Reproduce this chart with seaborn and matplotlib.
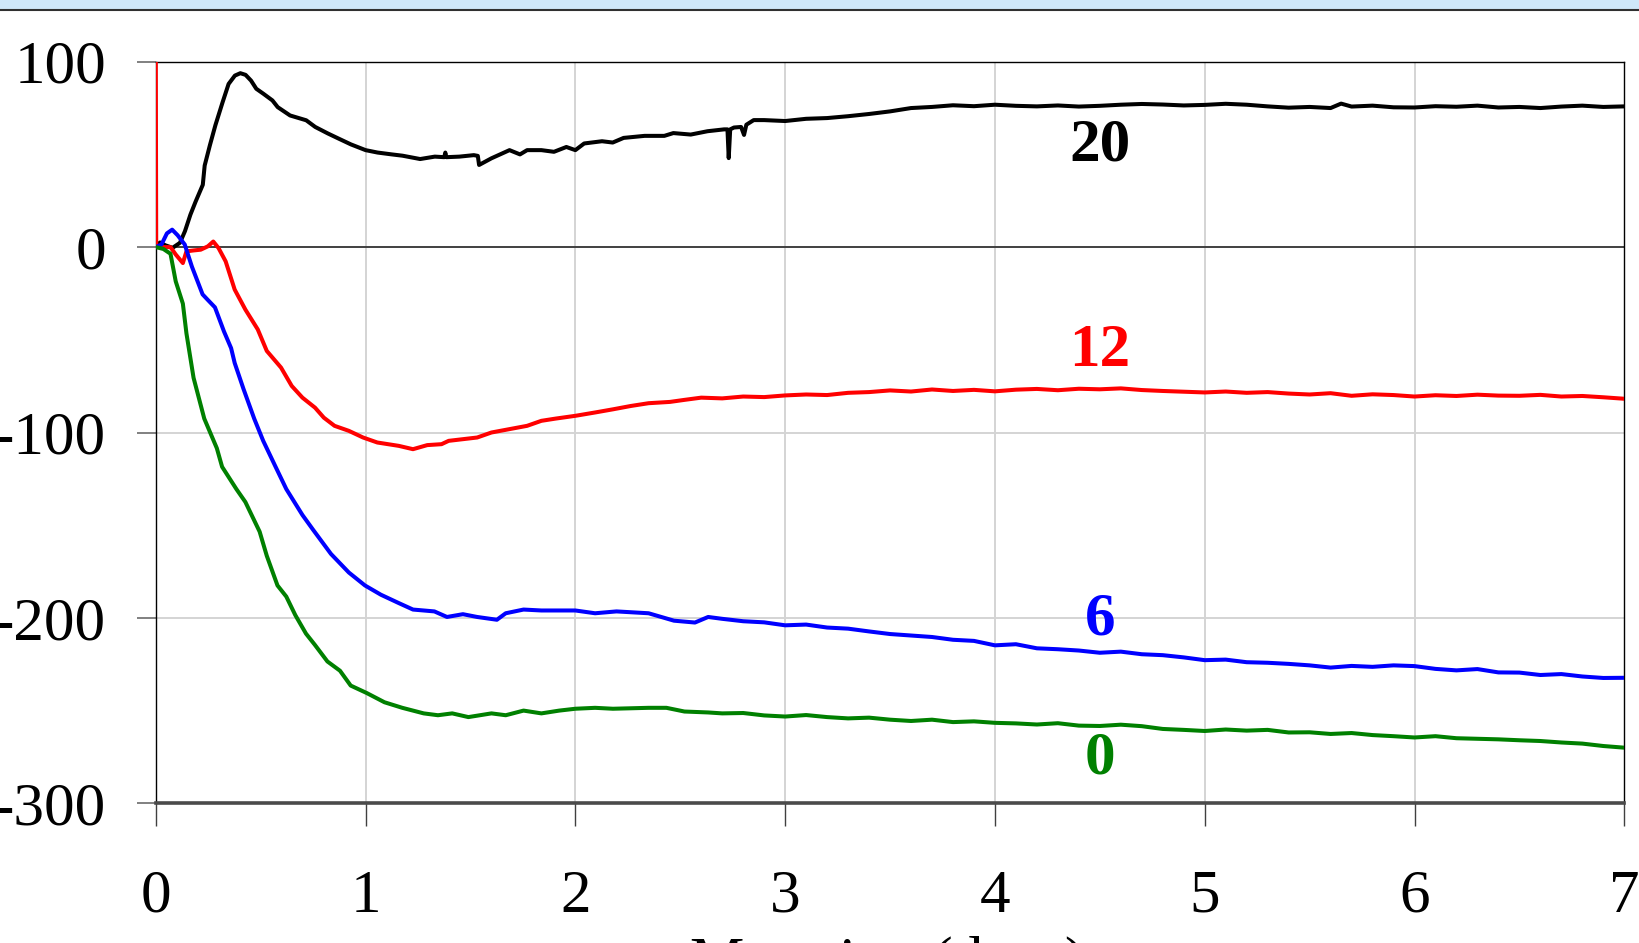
import numpy as np
import pandas as pd
import matplotlib
matplotlib.use("Agg")
import matplotlib.pyplot as plt
from matplotlib.patches import Rectangle
from matplotlib.lines import Line2D
import seaborn as sns

# ---------------- data ----------------
days_20 = [0, 0.02, 0.045, 0.08, 0.115, 0.139, 0.165, 0.19, 0.224, 0.233, 0.258, 0.284,
           0.318, 0.347, 0.377, 0.403, 0.428, 0.454, 0.479, 0.513, 0.556, 0.581, 0.64,
           0.717, 0.76, 0.82, 0.87, 0.93, 1.0, 1.057, 1.125, 1.176, 1.26, 1.33, 1.375,
           1.38, 1.385, 1.447, 1.516, 1.535, 1.541, 1.6, 1.686, 1.736, 1.77, 1.838, 1.898,
           1.957, 2.0, 2.042, 2.127, 2.178, 2.23, 2.33, 2.424, 2.467, 2.55, 2.63, 2.709,
           2.725, 2.731, 2.738, 2.756, 2.79, 2.804, 2.815, 2.85,
           2.9, 3.0, 3.1, 3.2, 3.3, 3.4, 3.5, 3.6, 3.7, 3.8, 3.9, 4.0, 4.1, 4.2, 4.3, 4.4,
           4.5, 4.6, 4.7, 4.8, 4.9, 5.0, 5.1, 5.2, 5.3, 5.4, 5.5, 5.6, 5.65, 5.7, 5.8, 5.9,
           6.0, 6.1, 6.2, 6.3, 6.4, 6.5, 6.6, 6.7, 6.8, 6.9, 7.0]
value_20 = [0, 2.5, 1, -0.4, 2.3, 8.6, 17.5, 24.6, 33.6, 44, 55, 65.7,
            78, 88, 92.5, 93.8, 92.9, 89.8, 85.4, 82.7, 79.1, 75.5, 71,
            68.4, 64.8, 61.3, 58.6, 55.4, 52.3, 51, 50, 49.3, 47.5, 48.8, 48.5,
            51, 48.5, 48.8, 49.6, 49.2, 44.3, 47.9, 52.3, 50, 52.3, 52.3, 51.4,
            54, 52.3, 55.9, 57.1, 56.4, 58.9, 60, 60, 61.5, 60.7, 62.5, 63.5,
            63.5, 48, 63.5, 64.5, 64.8, 60.5, 66, 68.5,
            68.5, 68, 69.2, 69.6, 70.6, 71.8, 73.2, 75, 75.6, 76.5, 76, 76.8, 76.2, 75.9, 76.4, 75.8,
            76.2, 76.8, 77.2, 76.9, 76.4, 76.7, 77.3, 76.8, 75.9, 75.2, 75.6, 75.0, 77.4, 75.8, 76.3, 75.4,
            75.3, 76.0, 75.7, 76.3, 75.3, 75.6, 75.0, 75.8, 76.3, 75.6, 75.9]

days_12 = [0, 0.002, 0.07, 0.095, 0.129, 0.146, 0.18, 0.214, 0.248, 0.274, 0.299, 0.333,
           0.376, 0.427, 0.486, 0.529, 0.597, 0.648, 0.699, 0.759, 0.801, 0.852, 0.92,
           0.988, 1.056, 1.158, 1.226, 1.294, 1.362, 1.396, 1.464, 1.532, 1.6, 1.685,
           1.77, 1.838, 1.906, 2.0, 2.094, 2.179, 2.264, 2.349, 2.451, 2.52, 2.6,
           2.7, 2.8, 2.9, 3.0, 3.1, 3.2, 3.3, 3.4, 3.5, 3.6, 3.7, 3.8, 3.9, 4.0, 4.1, 4.2,
           4.3, 4.4, 4.5, 4.6, 4.7, 4.8, 4.9, 5.0, 5.1, 5.2, 5.3, 5.4, 5.5, 5.6, 5.7, 5.8,
           5.9, 6.0, 6.1, 6.2, 6.3, 6.4, 6.5, 6.6, 6.7, 6.8, 6.9, 7.0]
value_12 = [100, 0, 0, -4, -8.6, -2.3, -1.8, -1.4, 0.4, 3, -0.5, -7.7,
            -22.9, -33.7, -44.4, -56, -65, -74.9, -81.2, -86.6, -92, -96.4, -99.1,
            -102.7, -105.4, -107.2, -109, -106.8, -106.3, -104.5, -103.6, -102.7, -100, -98.2,
            -96.4, -93.7, -92.5, -91, -89.2, -87.5, -85.7, -84.2, -83.5, -82.4, -81.2,
            -81.6, -80.6, -80.9, -80.0, -79.5, -79.8, -78.6, -78.2, -77.3, -77.9, -76.8, -77.6, -77.0, -77.8, -76.9, -76.5,
            -77.2, -76.4, -76.7, -76.2, -77.1, -77.6, -78.0, -78.4, -77.9, -78.6, -78.2, -79.0, -79.5, -78.8, -80.2, -79.4,
            -79.8, -80.6, -79.9, -80.3, -79.6, -80.1, -80.2, -79.7, -80.6, -80.3, -81.0, -81.8]

days_6 = [0, 0.027, 0.053, 0.078, 0.104, 0.138, 0.172, 0.223, 0.248, 0.282, 0.325,
          0.359, 0.376, 0.418, 0.469, 0.512, 0.571, 0.622, 0.699, 0.75, 0.835, 0.92,
          0.997, 1.073, 1.158, 1.226, 1.328, 1.388, 1.464, 1.532, 1.626, 1.668, 1.753,
          1.838, 2.0, 2.094, 2.196, 2.349, 2.47, 2.57, 2.633,
          2.7, 2.8, 2.9, 3.0, 3.1, 3.2, 3.3, 3.4, 3.5, 3.6, 3.7, 3.8, 3.9, 4.0, 4.1, 4.2,
          4.3, 4.4, 4.5, 4.6, 4.7, 4.8, 4.9, 5.0, 5.1, 5.2, 5.3, 5.4, 5.5, 5.6, 5.7, 5.8,
          5.9, 6.0, 6.1, 6.2, 6.3, 6.4, 6.5, 6.6, 6.7, 6.8, 6.9, 7.0]
value_6 = [0, 1.4, 7.4, 9.4, 6.4, 1.4, -10.5, -25.5, -28.5, -32.5, -45.5,
           -54.5, -62.5, -76.5, -92.5, -104.5, -118.5, -130.5, -144.5, -152.5, -165.5, -175.5,
           -182.5, -187.5, -192, -195.5, -196.5, -199.5, -198, -199.5, -201, -197.5, -195.5,
           -196, -196, -197.5, -196.5, -197.5, -201.5, -202.5, -199.5,
           -200.5, -201.8, -202.4, -204, -203.6, -205.2, -205.8, -207.3, -208.7, -209.5, -210.3, -211.8, -212.4, -214.8, -214.2, -216.4,
           -216.9, -217.6, -218.8, -218.2, -219.6, -220.1, -221.3, -222.8, -222.5, -223.9, -224.2, -224.8, -225.6, -226.8, -225.9, -226.4,
           -225.6, -226, -227.5, -228.3, -227.6, -229.4, -229.5, -230.8, -230.3, -231.6, -232.4, -232.3]

days_0 = [0, 0.036, 0.07, 0.095, 0.129, 0.146, 0.18, 0.231, 0.291, 0.316, 0.384,
          0.427, 0.461, 0.495, 0.529, 0.58, 0.622, 0.665, 0.716, 0.758, 0.818, 0.878,
          0.929, 1.005, 1.09, 1.175, 1.277, 1.345, 1.413, 1.49, 1.6, 1.668, 1.753,
          1.838, 1.923, 2.0, 2.094, 2.179, 2.349, 2.434, 2.52, 2.633,
          2.7, 2.8, 2.9, 3.0, 3.1, 3.2, 3.3, 3.4, 3.5, 3.6, 3.7, 3.8, 3.9, 4.0, 4.1, 4.2,
          4.3, 4.4, 4.5, 4.6, 4.7, 4.8, 4.9, 5.0, 5.1, 5.2, 5.3, 5.4, 5.5, 5.6, 5.7, 5.8,
          5.9, 6.0, 6.1, 6.2, 6.3, 6.4, 6.5, 6.6, 6.7, 6.8, 6.9, 7.0]
value_0 = [0, -1, -3.6, -18.5, -30.5, -46.5, -70.5, -92.5, -108.5, -118.5, -130.5,
           -137.5, -145.5, -153.5, -166.5, -182.5, -188.5, -198.5, -208.5, -214.5, -223.5, -228.5,
           -236.5, -240.5, -245.5, -248.5, -251.5, -252.5, -251.5, -253.5, -251.5, -252.5, -250,
           -251.5, -250, -249, -248.5, -249, -248.5, -248.5, -250.5, -251,
           -251.5, -251.3, -252.6, -253.2, -252.4, -253.5, -254.2, -253.8, -254.9, -255.6, -254.9, -256.2, -255.8, -256.6, -256.9, -257.5,
           -256.8, -258.1, -258.3, -257.6, -258.4, -259.9, -260.4, -261, -260.2, -260.8, -260.4, -261.8, -261.7, -262.6, -262.1, -263.2,
           -263.8, -264.5, -263.8, -264.9, -265.2, -265.5, -266, -266.4, -267.2, -267.8, -269.1, -270]

series_names = ["20", "12", "6", "0"]
series_colors = ["#000000", "#ff0000", "#0000ff", "#008000"]
label_x = [4.5, 4.5, 4.5, 4.5]
label_y = [55, -56, -201, -276]
x_ticks = [0, 1, 2, 3, 4, 5, 6, 7]
y_ticks = [-300, -200, -100, 0, 100]
x_label = "Maturing (days)"

# ---------------- figure ----------------
sns.set_theme(style="white")
plt.rcParams["font.family"] = ["Liberation Serif", "DejaVu Serif"]
plt.rcParams["axes.unicode_minus"] = False

fig = plt.figure(figsize=(16.4, 9.43), dpi=100)
fig.patch.set_facecolor("white")
# light blue strip at the very top
fig.patches.append(Rectangle((0, 1 - 9.5 / 943), 1, 9.5 / 943, transform=fig.transFigure,
                             facecolor="#cfe7f9", edgecolor="none", zorder=0))
fig.lines.append(Line2D([0, 1], [1 - 10 / 943, 1 - 10 / 943], transform=fig.transFigure,
                        color="#303030", lw=1.5))

ax = fig.add_axes([155.8 / 1640, 1 - 803.3 / 943, (1624.3 - 155.8) / 1640, (803.3 - 61.7) / 943])

frames = []
for name, xs, ys in zip(series_names, [days_20, days_12, days_6, days_0],
                        [value_20, value_12, value_6, value_0]):
    frames.append(pd.DataFrame({"day": xs, "value": ys, "series": name}))
df = pd.concat(frames, ignore_index=True)

sns.lineplot(data=df, x="day", y="value", hue="series", hue_order=series_names,
             palette=dict(zip(series_names, series_colors)), sort=False,
             estimator=None, units="series", linewidth=2.9, legend=False, ax=ax, zorder=3)

ax.set_xlim(0, 7)
ax.set_ylim(-300, 100)
ax.set_xticks(x_ticks)
ax.set_yticks(y_ticks)
ax.set_xticklabels([str(t) for t in x_ticks])
ax.set_yticklabels([str(t) for t in y_ticks])
ax.set_xlabel("")
ax.set_ylabel("")

# grid
for gx in x_ticks[1:-1]:
    ax.axvline(gx, color="#d4d4d4", lw=1.4, zorder=1)
for gy in [-200, -100]:
    ax.axhline(gy, color="#d4d4d4", lw=1.4, zorder=1)
ax.axhline(0, color="#404040", lw=1.4, zorder=2)

for side in ["left", "top", "right"]:
    ax.spines[side].set_color("#000000")
    ax.spines[side].set_linewidth(1.0)
ax.spines["bottom"].set_color("#4a4a4a")
ax.spines["bottom"].set_linewidth(2.6)

ax.tick_params(axis="x", direction="out", length=16.5, width=1.0, color="#404040",
               pad=31, labelsize=44, bottom=True, labelcolor="black")
ax.tick_params(axis="y", direction="out", length=13.7, width=1.4, color="#808080",
               pad=22, labelsize=44, left=True, labelcolor="black")

for name, c, lx, ly in zip(series_names, series_colors, label_x, label_y):
    ax.text(lx, ly, name, color=c, fontsize=44, fontweight="bold",
            ha="center", va="center", zorder=4)

fig.text(888 / 1640, 1 - 936 / 943, x_label, fontsize=44, ha="center", va="top",
         color="black")

fig.savefig("out.png", dpi=100)
